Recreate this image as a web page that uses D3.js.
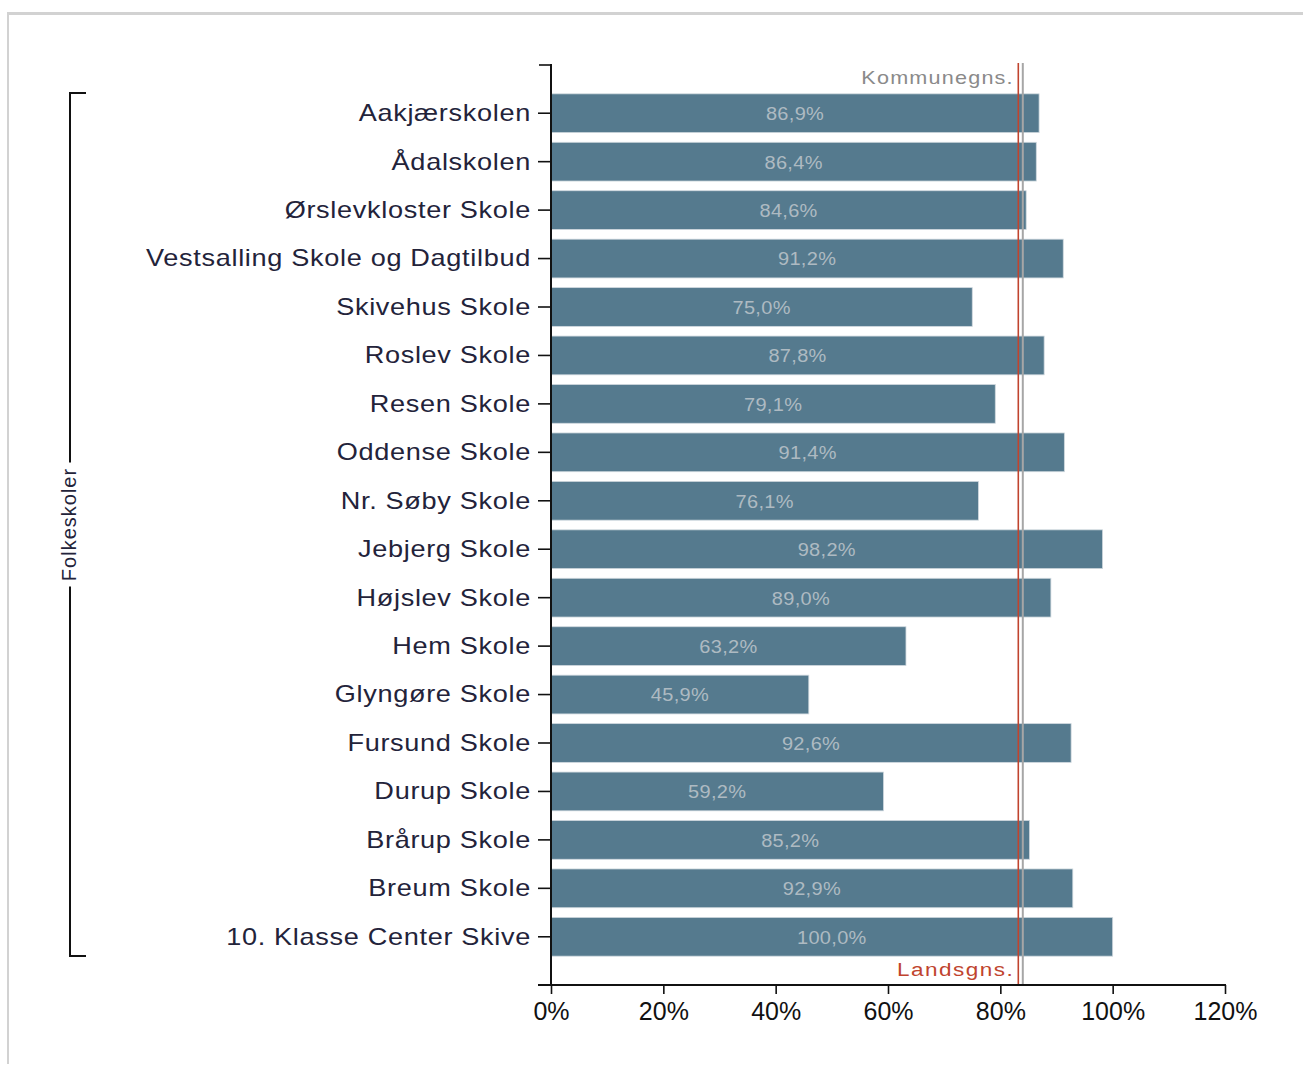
<!DOCTYPE html>
<html><head><meta charset="utf-8">
<script src="https://cdn.jsdelivr.net/npm/d3@7"></script>
<style>
html,body{margin:0;padding:0;background:#fff;}
svg{display:block;}
</style></head>
<body>
<svg id="chart" width="1303" height="1067"></svg>
<script>
const categories = ["Aakjærskolen","Ådalskolen","Ørslevkloster Skole","Vestsalling Skole og Dagtilbud","Skivehus Skole","Roslev Skole","Resen Skole","Oddense Skole","Nr. Søby Skole","Jebjerg Skole","Højslev Skole","Hem Skole","Glyngøre Skole","Fursund Skole","Durup Skole","Brårup Skole","Breum Skole","10. Klasse Center Skive"];
const values = [86.9,86.4,84.6,91.2,75.0,87.8,79.1,91.4,76.1,98.2,89.0,63.2,45.9,92.6,59.2,85.2,92.9,100.0];
const xTicks = [0,20,40,60,80,100,120];
const refLines = [
  {name:"Landsgns.", value:83.2},
  {name:"Kommunegns.", value:84.0}
];
const groupLabel = "Folkeskoler";

const svg = d3.select("#chart");
const FONT = "'Liberation Sans', Arial, sans-serif";

// frame
svg.append("line").attr("x1",7).attr("x2",1303).attr("y1",13.5).attr("y2",13.5).attr("stroke","#d2d2d2").attr("stroke-width",3);
svg.append("line").attr("x1",8).attr("x2",8).attr("y1",12).attr("y2",1064).attr("stroke","#d2d2d2").attr("stroke-width",2);

const x = d3.scaleLinear().domain([0,120]).range([551,1225]);
const y = d3.scaleBand().domain(categories).range([89,961]).paddingInner(0.2).paddingOuter(0.1);

// bars
svg.append("g").selectAll("rect").data(values).join("rect")
  .attr("x", x(0))
  .attr("y", (d,i)=>y(categories[i]))
  .attr("width", d=>x(d)-x(0))
  .attr("height", y.bandwidth())
  .attr("fill","#557a8e")
  .attr("stroke","#cfd8de").attr("stroke-width",0.8);

const fmt = d => d3.format(".1f")(d).replace(".",",") + "%";
svg.append("g").selectAll("text").data(values).join("text")
  .attr("transform", (d,i)=>`translate(${(x(0)+x(d))/2},${y(categories[i])+y.bandwidth()/2+2}) scale(1.08,1)`)
  .attr("text-anchor","middle").attr("dominant-baseline","middle")
  .attr("font-family",FONT)
  .attr("font-size",18.5).attr("letter-spacing",0.3)
  .attr("fill","#aebac2")
  .text(fmt);

// reference lines
const refColors = {"Landsgns.":"#c0442e","Kommunegns.":"#a6a6a6"};
refLines.forEach(r=>{
  svg.append("line").attr("x1",x(r.value)).attr("x2",x(r.value)).attr("y1",63).attr("y2",985)
    .attr("stroke",refColors[r.name]).attr("stroke-width", r.name==="Kommunegns."?2:1.6);
});
svg.append("text").attr("transform",`translate(${x(refLines[1].value)-9},79) scale(1.2,1)`)
  .attr("text-anchor","end").attr("dominant-baseline","middle")
  .attr("font-family",FONT).attr("font-size",18).attr("letter-spacing",1)
  .attr("fill","#8a8a8a").text(refLines[1].name);
svg.append("text").attr("transform",`translate(${x(refLines[0].value)-4},971) scale(1.25,1)`)
  .attr("text-anchor","end").attr("dominant-baseline","middle")
  .attr("font-family",FONT).attr("font-size",18).attr("letter-spacing",1.2)
  .attr("fill","#c0442e").text(refLines[0].name);

// y axis
const yAxis = svg.append("g").attr("transform","translate(551,0)")
  .call(d3.axisLeft(y).tickSize(13).tickPadding(6));
yAxis.select(".domain").remove();
yAxis.selectAll(".tick line").attr("stroke","#111").attr("stroke-width",1.6);
yAxis.selectAll(".tick text")
  .attr("x",0).attr("transform","translate(-20,0) scale(1.13,1)")
  .attr("font-family",FONT).attr("font-size",24).attr("letter-spacing",0.6)
  .attr("fill","#23233a").attr("dy","0.33em");
svg.append("line").attr("x1",551).attr("x2",551).attr("y1",64).attr("y2",986).attr("stroke","#111").attr("stroke-width",2);
svg.append("line").attr("x1",539).attr("x2",551).attr("y1",65).attr("y2",65).attr("stroke","#111").attr("stroke-width",1.6);

// x axis
const xAxis = svg.append("g").attr("transform","translate(0,985)")
  .call(d3.axisBottom(x).tickValues(xTicks).tickFormat(d=>d+"%").tickSize(9).tickPadding(8));
xAxis.select(".domain").remove();
xAxis.selectAll(".tick line").attr("stroke","#111").attr("stroke-width",1.6);
xAxis.selectAll(".tick text")
  .attr("font-family",FONT).attr("font-size",25)
  .attr("fill","#111");
svg.append("line").attr("x1",538).attr("x2",1226).attr("y1",985).attr("y2",985).attr("stroke","#111").attr("stroke-width",1.8);

// group bracket
const by0 = 93, by1 = 956, bx = 70;
const midY = (by0+by1)/2;
const br = svg.append("g").attr("stroke","#111").attr("stroke-width",2).attr("fill","none");
br.append("path").attr("d",`M${bx+16},${by0}H${bx}V${midY-62}`);
br.append("path").attr("d",`M${bx+16},${by1}H${bx}V${midY+62}`);
svg.append("text").attr("transform",`translate(${bx+6},${midY}) rotate(-90)`)
  .attr("text-anchor","middle")
  .attr("font-family",FONT).attr("font-size",20).attr("letter-spacing",1)
  .attr("fill","#23233a").text(groupLabel);
</script>
</body></html>
